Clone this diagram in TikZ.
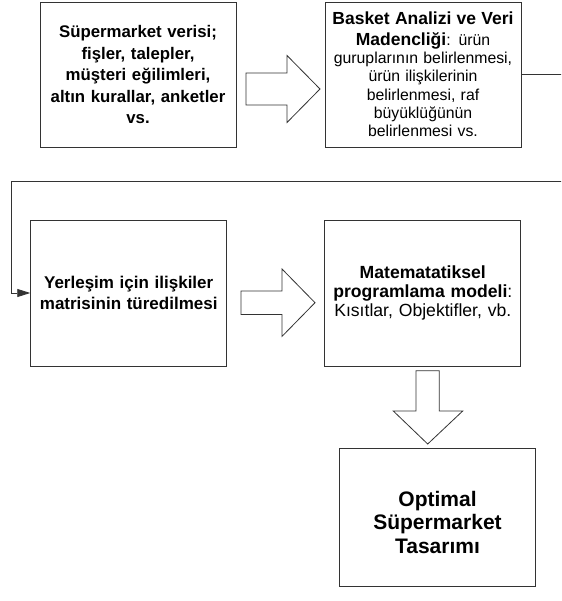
\documentclass[tikz,border=0pt]{standalone}
\usepackage{fontspec}
\setmainfont{Liberation Sans}
\usetikzlibrary{arrows.meta}
\begin{document}
\begin{tikzpicture}[x=1pt,y=-1pt,
  box/.style={draw=black!80, line width=0.9pt, minimum width=196pt, minimum height=145pt, inner sep=2pt, text width=192pt, align=center},
  blockarrow/.style={draw=black!80, line width=0.8pt, fill=white, line join=miter},
  link/.style={draw=black!80, line width=0.8pt, -{Triangle[length=13pt,width=8pt]}}]
\clip (0,0) rectangle (561,601);
\fill[white] (0,0) rectangle (561,601);
\node[box, font={\fontsize{16.8}{21.5}\selectfont\bfseries}] (b1) at (138,74.5) {Süpermarket verisi;\\ fişler, talepler,\\ müşteri eğilimleri,\\ altın kurallar, anketler\\ vs.};
\node[box, font={\fontsize{15.8}{18.3}\selectfont}] (b2) at (423,74.5) {{\fontsize{17.5}{20.5}\selectfont\bfseries Basket Analizi ve Veri}\\[2.4pt] {\fontsize{17.5}{20.5}\selectfont\bfseries Madencliği}: ürün\\ guruplarının belirlenmesi,\\ ürün ilişkilerinin\\ belirlenmesi, raf\\ büyüklüğünün\\ belirlenmesi vs.};
\node[box, minimum height=146pt, font={\fontsize{17}{21.7}\selectfont\bfseries}] (b3) at (128.7,293) {Yerleşim için ilişkiler\\ matrisinin türedilmesi};
\node[box, minimum height=146pt, font={\fontsize{17.6}{19.3}\selectfont}] (b4) at (422.8,293) {\textbf{Matematatiksel}\\ \textbf{programlama modeli}:\\ Kısıtlar, Objektifler, vb.};
\node[box, minimum height=138pt, font={\fontsize{21}{23.6}\selectfont\bfseries}] (b5) at (437.5,517) {\rule{0pt}{25.5pt}Optimal\\ Süpermarket\\ Tasarımı};
% block arrows
\draw[blockarrow] (246,73) -- (287,73) -- (287,55.5) -- (320,89) -- (287,122.5) -- (287,105) -- (246,105) -- cycle;
\draw[blockarrow] (241,290.9) -- (282,290.9) -- (282,269) -- (315,302.7) -- (282,336.4) -- (282,314.5) -- (241,314.5) -- cycle;
\draw[blockarrow] (416,370.7) -- (439.3,370.7) -- (439.3,411) -- (462.7,411) -- (427.7,444) -- (393.3,411) -- (416,411) -- cycle;
% connector
\draw[link] (b2.east) -- (580,74.5) -- (580,181) -- (11.7,181) |- (b3.west);
\end{tikzpicture}
\end{document}
